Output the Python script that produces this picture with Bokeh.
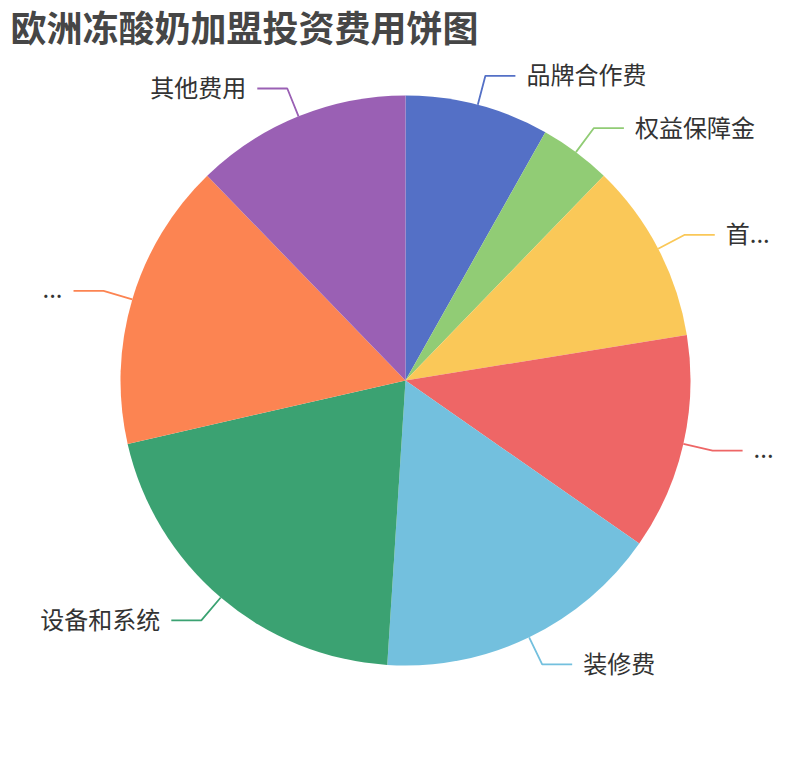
import math

from bokeh.embed import file_html
from bokeh.models import ColumnDataSource, Label, Range1d
from bokeh.plotting import figure
from bokeh.resources import INLINE

# data (share of the total investment)
categories = ["品牌合作费", "权益保障金", "首...", "...", "装修费", "设备和系统", "...", "其他费用"]
values = [8, 4, 10, 12, 16, 20, 16, 12]
colors = ["#5470c6", "#91cc75", "#fac858", "#ee6666", "#73c0de", "#3ba272", "#fc8452", "#9a60b4"]
title_text = "欧洲冻酸奶加盟投资费用饼图"

W, H = 810, 760
# pie geometry in pixel units (data units == pixels here)
cx, cy = 405, 380
radius = 285
len1, len2, gap = 30, 30, 11
font = "Noto Sans CJK SC"

total = sum(values)
starts, ends = [], []
acc = 0.0
for v in values:
    starts.append(acc / total)
    acc += v
    ends.append(acc / total)

# wedges go clockwise from 12 o'clock, like the original
start_angle = [math.pi / 2 - s * 2 * math.pi for s in starts]
end_angle = [math.pi / 2 - e * 2 * math.pi for e in ends]

wedges = ColumnDataSource(data=dict(
    name=categories, value=values, color=colors,
    start=start_angle, end=end_angle,
))

# label lines: radial piece out of the slice middle, then a flat piece
line_xs, line_ys, tx, ty, align = [], [], [], [], []
for s, e in zip(starts, ends):
    mid = (s + e) / 2 * 2 * math.pi
    dx, dy = math.sin(mid), math.cos(mid)
    side = 1 if dx >= 0 else -1
    x0, y0 = cx + radius * dx, cy + radius * dy
    x1, y1 = cx + (radius + len1) * dx, cy + (radius + len1) * dy
    x2 = x1 + side * len2
    line_xs.append([x0, x1, x2])
    line_ys.append([y0, y1, y1])
    tx.append(x2 + side * gap)
    ty.append(y1 + 2)  # CJK glyphs sit a little low on "middle"
    align.append("left" if side > 0 else "right")

labels = ColumnDataSource(data=dict(
    xs=line_xs, ys=line_ys, color=colors,
    x=tx, y=ty, text=categories, align=align,
))

p = figure(width=W, height=H, output_backend="svg", toolbar_location=None,
           x_range=Range1d(0, W), y_range=Range1d(0, H), min_border=0)

p.wedge(x=cx, y=cy, radius=radius, start_angle="start", end_angle="end",
        direction="clock", fill_color="color", line_color=None, source=wedges)

p.multi_line(xs="xs", ys="ys", line_color="color", line_width=1.8, source=labels)
p.text(x="x", y="y", text="text", text_align="align", text_baseline="middle",
       text_font_size="24px", text_color="#333333", text_font={"value": font},
       source=labels)

title = Label(x=10, y=H - 25, text=title_text, text_font=font, text_font_size="36px",
              text_font_style="bold", text_color="#464646", text_baseline="middle")
p.add_layout(title)

p.axis.visible = False
p.xgrid.visible = False
p.ygrid.visible = False
p.outline_line_color = None
p.background_fill_color = "white"
p.border_fill_color = "white"

open("out.html", "w").write(file_html(p, INLINE))
